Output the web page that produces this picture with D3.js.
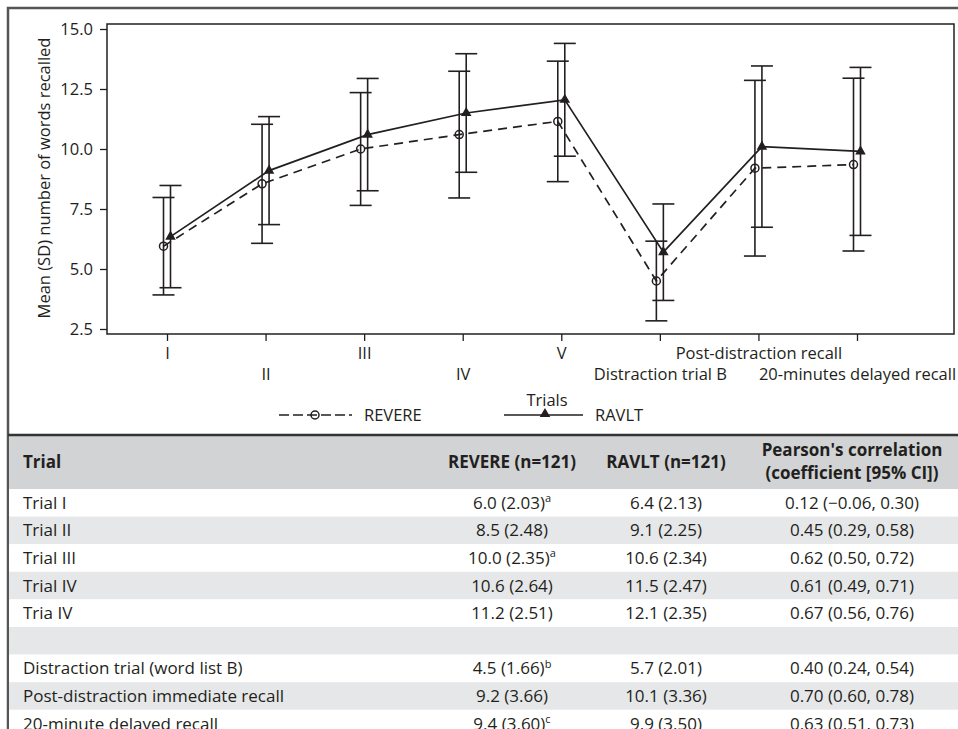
<!DOCTYPE html>
<html>
<head>
<meta charset="utf-8">
<script src="https://cdn.jsdelivr.net/npm/d3@7/dist/d3.min.js"></script>
<style>
  body { margin: 0; background: #fff; }
  svg { display: block; font-family: "Open Sans", Lato, sans-serif; }
</style>
</head>
<body>
<svg id="chart" width="958" height="729"></svg>
<script>
// chart data
const categories = ['I', 'II', 'III', 'IV', 'V', 'Distraction trial B', 'Post-distraction recall', '20-minutes delayed recall'];
const revereMean = [5.95, 8.55, 10.0, 10.6, 11.15, 4.5, 9.2, 9.35];
const revereSD   = [2.03, 2.48, 2.35, 2.64, 2.51, 1.66, 3.66, 3.60];
const ravltMean  = [6.35, 9.1, 10.6, 11.5, 12.05, 5.7, 10.1, 9.9];
const ravltSD    = [2.13, 2.25, 2.34, 2.47, 2.35, 2.01, 3.36, 3.50];
const yTicks = [2.5, 5.0, 7.5, 10.0, 12.5, 15.0];

// table data
const tableHeader = ['Trial', 'REVERE (n=121)', 'RAVLT (n=121)', ["Pearson's correlation", '(coefficient [95% CI])']];
const tableTrials  = ['Trial I', 'Trial II', 'Trial III', 'Trial IV', 'Tria IV', '', 'Distraction trial (word list B)', 'Post-distraction immediate recall', '20-minute delayed recall'];
const tableRevere  = ['6.0 (2.03)', '8.5 (2.48)', '10.0 (2.35)', '10.6 (2.64)', '11.2 (2.51)', '', '4.5 (1.66)', '9.2 (3.66)', '9.4 (3.60)'];
const tableRevSup  = ['a', '', 'a', '', '', '', 'b', '', 'c'];
const tableRavlt   = ['6.4 (2.13)', '9.1 (2.25)', '10.6 (2.34)', '11.5 (2.47)', '12.1 (2.35)', '', '5.7 (2.01)', '10.1 (3.36)', '9.9 (3.50)'];
const tablePearson = ['0.12 (\u22120.06, 0.30)', '0.45 (0.29, 0.58)', '0.62 (0.50, 0.72)', '0.61 (0.49, 0.71)', '0.67 (0.56, 0.76)', '', '0.40 (0.24, 0.54)', '0.70 (0.60, 0.78)', '0.63 (0.51, 0.73)'];

const svg = d3.select('#chart');
const ink = '#231f20';
const fs = 16.5;

// outer frame
svg.append('path')
  .attr('d', 'M8,729V8H958')
  .attr('fill', 'none').attr('stroke', '#555').attr('stroke-width', 2.5);

// plot area
const plot = {left: 107, top: 24, right: 954, bottom: 334};
const x = d3.scalePoint().domain(categories).range([167, 857]);
const y = d3.scaleLinear().domain([2.5, 15]).range([329, 29]);
const dodge = 3.5;

svg.append('rect')
  .attr('x', plot.left).attr('y', plot.top)
  .attr('width', plot.right - plot.left).attr('height', plot.bottom - plot.top)
  .attr('fill', 'none').attr('stroke', ink).attr('stroke-width', 1.5);

// y axis
const yAxis = svg.append('g')
  .attr('transform', `translate(${plot.left},0)`)
  .call(d3.axisLeft(y).tickValues(yTicks).tickFormat(d3.format('.1f')).tickSize(7).tickPadding(7));
yAxis.select('.domain').remove();
yAxis.selectAll('line').attr('stroke', ink).attr('stroke-width', 1.3);
yAxis.selectAll('text').attr('fill', ink).attr('font-size', fs).attr('font-family', 'Open Sans');

// x axis with staggered labels
const xAxis = svg.append('g')
  .attr('transform', `translate(0,${plot.bottom})`)
  .call(d3.axisBottom(x).tickSize(7));
xAxis.select('.domain').remove();
xAxis.selectAll('line').attr('stroke', ink).attr('stroke-width', 1.3);
xAxis.selectAll('text')
  .attr('fill', ink).attr('font-size', fs).attr('font-family', 'Open Sans')
  .attr('dy', null)
  .attr('y', (d, i) => i % 2 ? 46 : 25);

// y axis title
svg.append('text')
  .attr('transform', `translate(50,178) rotate(-90)`)
  .attr('text-anchor', 'middle')
  .attr('fill', ink).attr('font-size', fs)
  .text('Mean (SD) number of words recalled');

// series
const series = [
  {name: 'REVERE', mean: revereMean, sd: revereSD, off: -dodge, dash: '9,6', marker: 'circle'},
  {name: 'RAVLT', mean: ravltMean, sd: ravltSD, off: dodge, dash: null, marker: 'triangle'}
];
const capHalf = 11;

series.forEach(s => {
  const pts = categories.map((c, i) => ({x: x(c) + s.off, m: s.mean[i], sd: s.sd[i]}));
  const g = svg.append('g');
  // error bars
  const eb = g.selectAll('.eb').data(pts).enter().append('g')
    .attr('stroke', ink).attr('stroke-width', 1.6);
  eb.append('line').attr('x1', d => d.x).attr('x2', d => d.x)
    .attr('y1', d => y(d.m - d.sd)).attr('y2', d => y(d.m + d.sd));
  eb.append('line').attr('x1', d => d.x - capHalf).attr('x2', d => d.x + capHalf)
    .attr('y1', d => y(d.m + d.sd)).attr('y2', d => y(d.m + d.sd));
  eb.append('line').attr('x1', d => d.x - capHalf).attr('x2', d => d.x + capHalf)
    .attr('y1', d => y(d.m - d.sd)).attr('y2', d => y(d.m - d.sd));
  // mean line
  g.append('path').datum(pts)
    .attr('d', d3.line().x(d => d.x).y(d => y(d.m)))
    .attr('fill', 'none').attr('stroke', ink).attr('stroke-width', 1.7)
    .attr('stroke-dasharray', s.dash);
  // markers
  if (s.marker === 'circle') {
    g.selectAll('.mk').data(pts).enter().append('circle')
      .attr('cx', d => d.x).attr('cy', d => y(d.m)).attr('r', 4)
      .attr('fill', 'none').attr('stroke', ink).attr('stroke-width', 1.5);
  } else {
    g.selectAll('.mk').data(pts).enter().append('path')
      .attr('d', d3.symbol(d3.symbolTriangle, 48))
      .attr('transform', d => `translate(${d.x},${y(d.m)})`)
      .attr('fill', ink);
  }
});

// legend
const leg = svg.append('g').attr('fill', ink).attr('font-size', fs);
leg.append('text').attr('x', 547).attr('y', 400).attr('dy', '0.35em')
  .attr('text-anchor', 'middle').text('Trials');
leg.append('line').attr('x1', 279).attr('x2', 352).attr('y1', 415).attr('y2', 415)
  .attr('stroke', ink).attr('stroke-width', 1.7).attr('stroke-dasharray', '10,4');
leg.append('circle').attr('cx', 315).attr('cy', 415).attr('r', 4)
  .attr('fill', 'none').attr('stroke', ink).attr('stroke-width', 1.5);
leg.append('text').attr('x', 364).attr('y', 415).attr('dy', '0.35em').text('REVERE');
leg.append('line').attr('x1', 504).attr('x2', 583).attr('y1', 415).attr('y2', 415)
  .attr('stroke', ink).attr('stroke-width', 1.7);
leg.append('path').attr('d', d3.symbol(d3.symbolTriangle, 48))
  .attr('transform', 'translate(545,414)');
leg.append('text').attr('x', 595).attr('y', 415).attr('dy', '0.35em').text('RAVLT');

// table
const tableTop = 435, headH = 54, rowH = 27.6;
const colX = [23, 512, 666, 852];
const tbl = svg.append('g').attr('font-size', 17).attr('fill', ink);

tbl.append('rect').attr('x', 9).attr('y', tableTop).attr('width', 949).attr('height', headH)
  .attr('fill', '#d1d3d4');
tbl.selectAll('.rowbg').data(tableTrials).enter().append('rect')
  .attr('x', 9).attr('y', (d, i) => tableTop + headH + i * rowH)
  .attr('width', 949).attr('height', rowH)
  .attr('fill', (d, i) => i % 2 ? '#e6e7e8' : '#fff');
svg.append('line').attr('x1', 8).attr('x2', 958).attr('y1', tableTop).attr('y2', tableTop)
  .attr('stroke', '#333').attr('stroke-width', 2.5);

const hy = tableTop + headH / 2;
const head = tbl.append('g').attr('font-weight', 'bold');
head.append('text').attr('x', colX[0]).attr('y', hy).attr('dy', '0.35em').text(tableHeader[0]);
head.append('text').attr('x', colX[1]).attr('y', hy).attr('dy', '0.35em').attr('text-anchor', 'middle').text(tableHeader[1]);
head.append('text').attr('x', colX[2]).attr('y', hy).attr('dy', '0.35em').attr('text-anchor', 'middle').text(tableHeader[2]);
tableHeader[3].forEach((t, k) => {
  head.append('text').attr('x', colX[3]).attr('y', hy - 12 + k * 23).attr('dy', '0.35em')
    .attr('text-anchor', 'middle').text(t);
});

const rows = tbl.selectAll('.row').data(tableTrials).enter().append('g')
  .attr('transform', (d, i) => `translate(0,${tableTop + headH + i * rowH + rowH / 2})`);
rows.append('text').attr('x', colX[0]).attr('dy', '0.35em').text(d => d);
const rev = rows.append('text').attr('x', colX[1]).attr('dy', '0.35em').attr('text-anchor', 'middle');
rev.append('tspan').text((d, i) => tableRevere[i]);
rev.append('tspan').attr('font-size', 11).attr('dy', '-0.6em').text((d, i) => tableRevSup[i]);
rows.append('text').attr('x', colX[2]).attr('dy', '0.35em').attr('text-anchor', 'middle').text((d, i) => tableRavlt[i]);
rows.append('text').attr('x', colX[3]).attr('dy', '0.35em').attr('text-anchor', 'middle').text((d, i) => tablePearson[i]);
</script>
</body>
</html>
